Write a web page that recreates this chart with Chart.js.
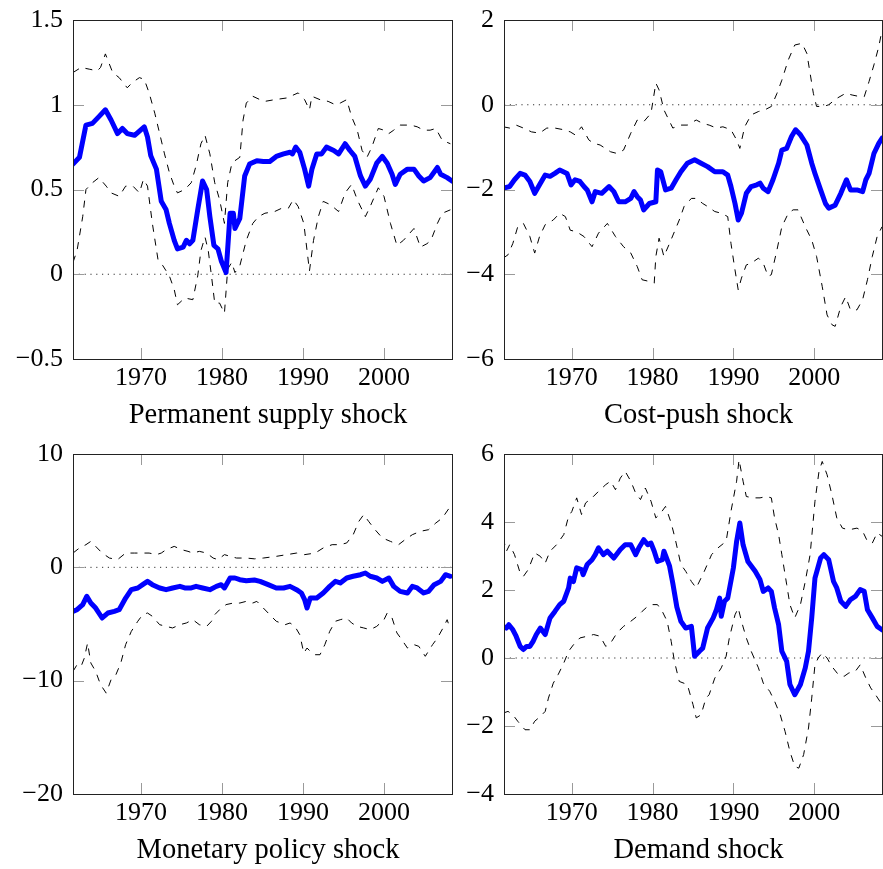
<!DOCTYPE html>
<html>
<head>
<meta charset="utf-8">
<script src="https://cdn.jsdelivr.net/npm/chart.js@4.4.1/dist/chart.umd.min.js"></script>
<style>
body{margin:0;background:#fff;overflow:hidden;width:883px;height:869px;position:relative}
.p{position:absolute}
</style>
</head>
<body>
<div class="p" style="left:0;top:0;width:460px;height:440px"><canvas id="c1"></canvas></div>
<div class="p" style="left:431px;top:0;width:452px;height:440px"><canvas id="c2"></canvas></div>
<div class="p" style="left:0;top:434px;width:460px;height:441px"><canvas id="c3"></canvas></div>
<div class="p" style="left:431px;top:434px;width:452px;height:441px"><canvas id="c4"></canvas></div>
<script>
// x axis
const xMin = 1961.6;
const xMax = 2008.4;
const yearTicks = [1970, 1980, 1990, 2000];

// panel titles
const titles = ["Permanent supply shock", "Cost-push shock", "Monetary policy shock", "Demand shock"];

// y ticks per panel
const supplyTicks = [-0.5, 0, 0.5, 1, 1.5];
const costTicks = [-6, -4, -2, 0, 2];
const monTicks = [-20, -10, 0, 10];
const demTicks = [-4, -2, 0, 2, 4, 6];

// ---- Permanent supply shock ----
const supplyMedYears = [1961.6,1962.4,1963.2,1964.0,1964.8,1965.6,1966.3,1967.1,1967.7,1968.3,1969.2,1970.4,1970.8,1971.2,1971.9,1972.5,1973.1,1973.5,1974.1,1974.5,1975.2,1975.6,1976.0,1976.4,1977.0,1977.6,1978.1,1978.5,1979.0,1979.5,1979.9,1980.5,1981.0,1981.4,1981.6,1982.2,1982.8,1983.4,1984.3,1985.1,1985.9,1986.7,1987.6,1988.4,1988.7,1989.1,1989.6,1990.2,1990.7,1991.1,1991.7,1992.3,1992.9,1993.8,1994.4,1995.2,1995.8,1996.4,1997.1,1997.7,1998.3,1999.1,1999.8,2000.4,2001.0,2001.4,2002.0,2002.9,2003.7,2004.3,2004.9,2005.7,2006.6,2007.0,2007.8,2008.4];
const supplyMed = [0.65,0.69,0.88,0.89,0.93,0.97,0.91,0.83,0.86,0.83,0.82,0.87,0.81,0.70,0.62,0.43,0.38,0.30,0.20,0.15,0.16,0.20,0.18,0.20,0.38,0.55,0.50,0.34,0.17,0.15,0.08,0.01,0.36,0.36,0.27,0.33,0.58,0.65,0.67,0.665,0.665,0.695,0.71,0.72,0.71,0.75,0.72,0.62,0.52,0.62,0.71,0.71,0.75,0.73,0.71,0.77,0.73,0.695,0.58,0.52,0.56,0.655,0.695,0.655,0.59,0.53,0.59,0.62,0.62,0.58,0.55,0.57,0.63,0.59,0.57,0.55];
const supplyUpYears = [1961.6,1962.6,1963.6,1964.6,1965.0,1965.6,1966.5,1967.3,1968.3,1968.9,1969.8,1970.4,1971.0,1971.7,1972.3,1972.9,1973.5,1974.1,1974.5,1975.4,1976.2,1976.8,1977.4,1977.9,1978.5,1979.1,1979.7,1980.3,1980.7,1981.2,1981.6,1982.2,1982.6,1983.0,1983.8,1984.7,1985.3,1986.5,1988.0,1989.4,1990.2,1990.8,1991.1,1992.1,1993.1,1994.0,1994.6,1995.4,1996.0,1996.7,1997.3,1997.9,1998.5,1999.3,2000.0,2000.6,2001.2,2002.0,2003.3,2004.1,2004.9,2005.7,2006.4,2007.2,2008.2];
const supplyUp = [1.19,1.22,1.21,1.20,1.22,1.30,1.19,1.16,1.10,1.13,1.16,1.15,1.07,0.95,0.83,0.71,0.60,0.52,0.48,0.50,0.54,0.64,0.77,0.82,0.71,0.54,0.44,0.30,0.54,0.65,0.67,0.69,0.91,1.01,1.05,1.03,1.02,1.03,1.04,1.07,1.03,0.97,1.05,1.03,1.02,1.00,1.01,1.03,0.93,0.85,0.73,0.69,0.75,0.86,0.85,0.83,0.85,0.88,0.88,0.87,0.85,0.85,0.86,0.79,0.77];
const supplyLoYears = [1961.6,1962.1,1962.8,1963.2,1964.0,1964.8,1965.7,1966.3,1967.3,1968.1,1969.0,1969.8,1970.3,1970.8,1971.4,1972.1,1972.7,1973.5,1974.1,1974.5,1975.4,1976.4,1977.0,1977.4,1977.9,1978.3,1978.7,1979.1,1979.7,1980.3,1980.7,1981.2,1981.6,1982.2,1983.0,1983.8,1984.5,1985.3,1986.5,1987.4,1988.2,1988.8,1989.4,1990.1,1990.5,1990.8,1991.3,1991.9,1992.5,1993.4,1994.4,1995.2,1996.0,1996.7,1997.3,1997.7,1998.3,1999.3,2000.0,2000.8,2001.6,2002.4,2003.7,2004.5,2005.3,2005.8,2006.6,2007.2,2008.2];
const supplyLo = [0.07,0.14,0.34,0.50,0.54,0.57,0.52,0.48,0.46,0.52,0.52,0.48,0.56,0.52,0.30,0.085,0.05,-0.01,-0.09,-0.18,-0.14,-0.15,-0.01,0.14,0.22,0.14,-0.01,-0.17,-0.17,-0.23,0.03,0.07,0.01,0.05,0.20,0.30,0.34,0.36,0.37,0.39,0.39,0.44,0.40,0.30,0.14,0.02,0.20,0.34,0.43,0.41,0.37,0.48,0.53,0.44,0.38,0.34,0.40,0.51,0.46,0.30,0.17,0.20,0.27,0.16,0.18,0.20,0.30,0.36,0.38];

// ---- Cost-push shock ----
const costMedYears = [1961.5,1962.3,1962.9,1963.6,1964.2,1964.8,1965.4,1966.0,1966.7,1967.3,1967.9,1968.5,1969.4,1969.9,1970.4,1971.0,1971.5,1971.9,1972.5,1972.9,1973.7,1974.6,1975.2,1975.8,1976.6,1977.3,1977.7,1978.1,1978.5,1978.9,1979.6,1980.4,1980.6,1981.0,1981.6,1982.3,1982.9,1983.5,1984.3,1985.2,1986.0,1986.8,1987.7,1988.7,1989.3,1989.7,1990.2,1990.6,1991.0,1991.6,1992.2,1992.9,1993.3,1993.7,1994.3,1994.9,1995.6,1996.0,1996.6,1997.2,1997.7,1998.3,1999.1,1999.7,2000.1,2000.8,2001.4,2001.8,2002.6,2003.3,2004.0,2004.5,2005.3,2006.0,2006.4,2006.8,2007.4,2008.0,2008.4];
const costMed = [-1.97,-1.93,-1.77,-1.62,-1.66,-1.81,-2.09,-1.89,-1.66,-1.69,-1.62,-1.54,-1.62,-1.89,-1.77,-1.81,-1.93,-2.01,-2.29,-2.05,-2.09,-1.93,-2.05,-2.29,-2.29,-2.21,-2.05,-2.17,-2.25,-2.48,-2.33,-2.29,-1.54,-1.58,-2.01,-1.97,-1.77,-1.58,-1.38,-1.30,-1.38,-1.46,-1.58,-1.58,-1.66,-1.93,-2.33,-2.72,-2.56,-2.09,-1.93,-1.89,-1.85,-1.97,-2.05,-1.77,-1.38,-1.07,-1.03,-0.75,-0.59,-0.71,-0.95,-1.38,-1.62,-2.01,-2.33,-2.44,-2.37,-2.09,-1.77,-2.01,-2.01,-2.05,-1.77,-1.62,-1.15,-0.91,-0.79];
const costUpYears = [1961.5,1962.3,1963.1,1964.0,1965.0,1966.0,1966.9,1967.9,1969.0,1969.8,1970.4,1971.2,1972.1,1972.7,1973.5,1974.8,1975.6,1976.4,1977.3,1978.1,1978.9,1979.8,1980.4,1980.8,1981.4,1982.5,1983.5,1984.3,1985.4,1986.2,1987.0,1987.9,1988.7,1989.7,1990.4,1990.8,1991.4,1992.2,1993.1,1993.9,1994.7,1995.4,1996.0,1996.8,1997.6,1998.5,1999.1,1999.5,1999.9,2000.3,2001.2,2001.8,2002.8,2003.9,2004.7,2005.7,2006.2,2006.8,2007.4,2008.0,2008.4];
const costUp = [-0.52,-0.55,-0.48,-0.55,-0.64,-0.67,-0.55,-0.55,-0.59,-0.64,-0.71,-0.52,-0.83,-0.91,-0.95,-1.11,-1.15,-1.07,-0.67,-0.36,-0.40,-0.20,0.51,0.35,-0.12,-0.55,-0.48,-0.48,-0.36,-0.44,-0.48,-0.55,-0.52,-0.59,-0.83,-1.03,-0.52,-0.24,-0.16,-0.12,-0.04,0.27,0.58,1.06,1.41,1.45,1.21,0.74,0.27,-0.04,-0.04,0.00,0.15,0.27,0.23,0.19,0.19,0.55,0.94,1.37,1.76];
const costLoYears = [1961.5,1962.1,1962.7,1963.3,1964.0,1964.8,1965.4,1966.0,1966.7,1967.7,1968.5,1969.2,1969.8,1970.6,1971.5,1972.5,1973.3,1974.4,1975.4,1976.4,1977.3,1978.1,1978.7,1979.6,1980.2,1980.4,1980.8,1981.4,1982.1,1982.8,1983.3,1983.9,1984.8,1985.4,1986.2,1986.8,1987.7,1988.5,1989.3,1989.7,1990.2,1990.6,1991.0,1991.6,1992.2,1993.1,1993.7,1994.3,1994.7,1995.4,1996.0,1996.8,1997.4,1998.0,1998.9,1999.7,2000.3,2001.0,2001.6,2002.2,2002.6,2003.3,2003.9,2004.5,2005.3,2006.0,2006.6,2007.2,2007.8,2008.4];
const costLo = [-3.62,-3.54,-3.27,-2.88,-2.80,-3.11,-3.50,-3.11,-2.83,-2.72,-2.56,-2.64,-2.96,-3.00,-3.11,-3.35,-3.03,-2.80,-3.11,-3.35,-3.50,-3.82,-4.13,-4.17,-4.21,-3.58,-3.15,-3.58,-3.27,-2.95,-2.72,-2.40,-2.21,-2.21,-2.33,-2.40,-2.52,-2.56,-2.64,-3.27,-3.90,-4.37,-4.09,-3.78,-3.74,-3.62,-3.74,-4.05,-4.01,-3.42,-2.88,-2.56,-2.48,-2.48,-2.88,-3.19,-3.58,-4.29,-4.96,-5.19,-5.23,-4.76,-4.53,-4.84,-4.84,-4.60,-4.13,-3.58,-3.11,-2.88];

// ---- Monetary policy shock ----
const monMedYears = [1961.6,1962.1,1962.8,1963.3,1963.8,1964.4,1965.2,1965.9,1966.7,1967.3,1968.1,1968.8,1969.6,1970.2,1970.8,1971.4,1972.3,1973.1,1973.9,1974.8,1975.4,1976.2,1976.8,1977.6,1978.5,1979.3,1979.9,1980.3,1981.0,1981.6,1982.2,1983.0,1984.0,1984.7,1985.7,1986.7,1987.6,1988.4,1989.2,1989.8,1990.2,1990.5,1990.9,1991.7,1992.5,1993.3,1994.0,1994.6,1995.4,1996.2,1997.1,1997.7,1998.3,1999.1,1999.8,2000.6,2001.2,2002.0,2002.9,2003.5,2004.1,2004.9,2005.5,2006.2,2007.0,2007.6,2008.2];
const monMed = [-3.88,-3.74,-3.29,-2.56,-3.15,-3.59,-4.47,-4.03,-3.88,-3.74,-2.71,-1.97,-1.82,-1.53,-1.24,-1.53,-1.82,-1.97,-1.82,-1.68,-1.82,-1.82,-1.68,-1.82,-1.97,-1.68,-1.53,-1.82,-0.94,-0.94,-1.09,-1.18,-1.12,-1.24,-1.53,-1.82,-1.82,-1.68,-1.97,-2.26,-2.85,-3.59,-2.71,-2.71,-2.26,-1.68,-1.24,-1.38,-0.94,-0.79,-0.65,-0.50,-0.79,-0.94,-1.24,-0.94,-1.68,-2.12,-2.26,-1.68,-1.82,-2.26,-2.12,-1.53,-1.24,-0.65,-0.79];
const monUpYears = [1961.6,1962.4,1963.2,1963.8,1964.4,1965.2,1966.1,1967.1,1968.1,1969.2,1970.2,1971.0,1971.9,1972.5,1973.1,1974.1,1975.0,1975.8,1976.4,1977.2,1978.1,1978.9,1979.5,1980.3,1981.0,1981.8,1983.0,1984.0,1985.1,1986.7,1988.0,1989.2,1990.2,1991.5,1992.5,1993.6,1994.6,1995.4,1996.2,1996.9,1997.5,1998.1,1998.9,1999.8,2000.8,2001.8,2002.6,2003.5,2004.5,2005.5,2006.4,2007.2,2008.2];
const monUp = [1.26,1.71,2.0,2.29,1.85,1.26,0.82,0.68,1.26,1.26,1.26,1.26,1.12,1.26,1.56,1.85,1.56,1.41,1.26,1.41,1.26,0.82,0.68,1.12,0.97,0.82,0.82,0.75,0.82,0.97,1.12,1.26,1.12,1.26,1.71,2.0,2.0,2.15,2.88,4.06,4.65,4.06,3.32,2.59,2.29,2.0,2.44,2.88,3.18,3.32,3.91,4.35,5.38];
const monLoYears = [1961.6,1962.1,1962.6,1963.0,1963.4,1963.8,1964.4,1965.0,1965.7,1966.3,1966.9,1967.5,1968.1,1968.8,1969.6,1970.2,1970.8,1971.4,1972.3,1973.1,1973.9,1974.8,1975.6,1976.4,1977.2,1978.1,1978.7,1979.1,1979.7,1980.5,1981.4,1982.2,1983.0,1983.8,1984.3,1985.1,1985.9,1986.7,1987.8,1988.4,1989.0,1989.6,1990.1,1990.5,1990.9,1991.5,1992.1,1992.7,1993.3,1994.0,1994.6,1995.4,1996.0,1996.7,1997.5,1998.3,1999.1,2000.0,2000.4,2001.0,2001.6,2002.2,2002.9,2003.7,2004.3,2005.1,2006.0,2006.6,2007.4,2007.8,2008.2];
const monLo = [-9.18,-8.59,-8.74,-8.0,-6.68,-8.44,-9.18,-10.35,-11.1,-9.91,-9.47,-8.44,-6.82,-5.65,-4.76,-4.18,-4.03,-4.32,-5.06,-5.21,-5.35,-5.06,-4.91,-4.62,-5.06,-5.21,-4.76,-4.18,-3.74,-3.29,-3.15,-3.15,-3.0,-3.15,-3.0,-3.59,-4.18,-4.76,-5.06,-4.91,-5.21,-5.94,-7.56,-7.12,-7.41,-7.71,-7.71,-6.82,-5.65,-4.76,-4.62,-4.47,-4.91,-5.21,-5.35,-5.50,-5.21,-4.62,-4.03,-4.47,-5.79,-6.38,-7.12,-6.82,-6.97,-7.85,-6.82,-6.24,-5.21,-4.62,-5.5];

// ---- Demand shock ----
const demMedYears = [1961.5,1961.9,1962.2,1962.7,1963.1,1963.6,1964.0,1964.4,1964.8,1965.2,1965.6,1966.1,1966.7,1967.3,1967.9,1968.5,1969.0,1969.6,1969.8,1970.2,1970.6,1971.2,1971.4,1971.9,1972.5,1972.9,1973.3,1973.9,1974.4,1975.2,1976.0,1976.6,1977.3,1977.9,1978.3,1978.9,1979.4,1979.8,1980.2,1980.6,1981.2,1981.4,1982.1,1982.5,1983.0,1983.5,1984.1,1984.8,1985.2,1985.8,1986.2,1986.8,1987.5,1987.9,1988.3,1988.5,1988.9,1989.3,1990.0,1990.4,1990.8,1991.2,1991.8,1992.7,1993.3,1993.7,1994.3,1994.7,1995.1,1995.6,1996.0,1996.6,1997.0,1997.6,1998.3,1998.9,1999.3,1999.7,2000.1,2000.8,2001.2,2001.8,2002.4,2002.8,2003.3,2003.9,2004.5,2005.1,2005.7,2006.2,2006.6,2007.2,2007.8,2008.4];
const demMed = [0.93,0.88,0.98,0.83,0.64,0.34,0.25,0.34,0.34,0.49,0.69,0.88,0.69,1.18,1.37,1.57,1.67,2.06,2.35,2.25,2.65,2.60,2.45,2.75,2.89,3.04,3.24,3.04,3.14,2.94,3.19,3.33,3.33,3.04,3.24,3.48,3.33,3.38,3.14,2.84,2.89,3.14,2.70,2.2,1.5,1.08,0.88,0.93,0.05,0.20,0.29,0.88,1.18,1.42,1.76,1.23,1.67,1.76,2.65,3.43,3.97,3.33,2.84,2.55,2.30,1.96,2.06,1.96,1.47,0.98,0.20,-0.10,-0.78,-1.08,-0.78,-0.29,0.20,1.18,2.35,2.94,3.04,2.89,2.25,2.06,1.67,1.52,1.72,1.81,2.01,1.96,1.42,1.18,0.93,0.83];
const demUpYears = [1961.5,1961.9,1962.3,1962.9,1963.6,1964.0,1964.6,1965.4,1966.1,1966.7,1967.3,1968.1,1969.0,1969.6,1970.0,1970.6,1971.2,1971.7,1972.5,1973.3,1974.2,1974.8,1975.4,1976.0,1976.6,1977.3,1977.9,1978.5,1979.1,1979.8,1980.4,1981.0,1981.6,1982.3,1982.8,1983.5,1984.1,1984.8,1985.4,1986.4,1987.3,1988.1,1989.1,1989.7,1990.4,1990.7,1991.2,1991.6,1992.4,1993.3,1994.1,1994.7,1995.1,1995.6,1996.0,1996.6,1997.0,1997.6,1998.3,1998.9,1999.5,2000.1,2000.6,2001.0,2001.6,2002.2,2002.8,2003.5,2004.3,2005.3,2006.0,2006.6,2007.2,2007.8,2008.4];
const demUp = [3.53,3.14,3.33,3.04,2.5,2.40,2.60,3.09,2.99,2.79,3.14,3.33,3.63,4.17,4.31,4.71,4.22,4.56,4.71,4.90,5.10,5.20,4.95,5.29,5.49,5.20,4.85,4.66,5.0,4.61,4.12,4.26,4.46,3.97,3.5,2.75,2.55,2.25,2.06,2.55,3.04,3.24,3.43,4.31,5.20,5.83,5.2,4.75,4.71,4.71,4.75,4.71,4.12,3.63,3.04,2.16,1.57,1.18,1.57,2.25,3.04,4.61,5.49,5.78,5.39,4.80,4.12,3.82,3.77,3.82,3.73,3.43,3.38,3.68,3.58];
const demLoYears = [1961.5,1962.1,1962.7,1963.3,1964.2,1964.8,1965.4,1966.1,1966.7,1967.1,1967.7,1968.3,1969.0,1969.6,1970.2,1971.0,1971.9,1972.7,1973.5,1974.2,1974.8,1975.6,1976.4,1977.3,1978.1,1978.7,1979.4,1980.0,1980.6,1981.2,1981.8,1982.3,1982.7,1983.3,1984.3,1985.0,1985.4,1986.0,1986.6,1987.0,1987.7,1988.5,1989.1,1989.5,1990.2,1990.6,1991.0,1991.6,1992.2,1993.1,1993.7,1994.5,1995.1,1995.8,1996.4,1997.0,1997.6,1998.1,1998.7,1999.3,1999.7,2000.1,2000.5,2001.0,2001.6,2002.2,2003.0,2003.7,2004.3,2005.1,2005.7,2006.4,2007.0,2007.6,2008.4];
const demLo = [-1.62,-1.57,-1.67,-1.86,-2.11,-2.11,-1.86,-1.72,-1.57,-1.18,-0.74,-0.49,-0.15,0.20,0.39,0.59,0.64,0.69,0.64,0.34,0.44,0.74,0.93,1.08,1.23,1.37,1.52,1.57,1.57,1.37,1.08,0.49,-0.10,-0.69,-0.78,-1.37,-1.76,-1.67,-1.18,-1.08,-0.59,-0.29,0.05,0.59,1.27,1.47,1.08,0.59,0.20,-0.29,-0.74,-0.98,-1.27,-1.67,-2.16,-2.75,-3.19,-3.24,-2.84,-2.06,-1.18,-0.20,0.0,0.15,0.0,-0.25,-0.49,-0.54,-0.44,-0.39,-0.20,-0.59,-0.88,-1.08,-1.37];

Chart.defaults.font.family = "'Liberation Serif', 'Times New Roman', serif";
Chart.defaults.color = '#000';

function pts(xs, ys) {
	return xs.map((x, i) => ({x: x, y: ys[i]}));
}

function fmt(v) {
	return (v < 0 ? '\u2212' : '') + Math.abs(v);
}

// frame, inward tick marks and the x title like pgfplots
const frame = {
	id: 'frame',
	afterDatasetsDraw(chart, args, opts) {
		const ctx = chart.ctx;
		const a = chart.chartArea;
		const sx = chart.scales.x, sy = chart.scales.y;
		ctx.save();
		ctx.strokeStyle = '#9a9a9a';
		ctx.lineWidth = 1;
		ctx.beginPath();
		sx.ticks.forEach(t => {
			const px = Math.round(sx.getPixelForValue(t.value)) + 0.5;
			ctx.moveTo(px, a.top); ctx.lineTo(px, a.top + 11);
			ctx.moveTo(px, a.bottom); ctx.lineTo(px, a.bottom - 11);
		});
		sy.ticks.forEach(t => {
			const py = Math.round(sy.getPixelForValue(t.value)) + 0.5;
			ctx.moveTo(a.left, py); ctx.lineTo(a.left + 11, py);
			ctx.moveTo(a.right, py); ctx.lineTo(a.right - 11, py);
		});
		ctx.stroke();
		ctx.strokeStyle = '#222';
		ctx.strokeRect(Math.round(a.left) + 0.5, Math.round(a.top) + 0.5, Math.round(a.right - a.left), Math.round(a.bottom - a.top));

		ctx.fillStyle = '#000';
		ctx.font = "28.5px 'Liberation Serif', serif";
		ctx.textAlign = 'center';
		ctx.textBaseline = 'alphabetic';
		ctx.fillText(opts.title, (a.left + a.right) / 2 + 5.5, a.bottom + 64);
		ctx.restore();
	}
};

function makePanel(id, title, ticks, med, up, lo, padRight) {
	new Chart(document.getElementById(id), {
		type: 'line',
		data: {
			datasets: [
				{data: med, borderColor: '#0000ff', borderWidth: 5, pointRadius: 0, tension: 0, borderJoinStyle: 'round', borderCapStyle: 'round', order: 0, clip: 0},
				{data: up, borderColor: '#000', borderWidth: 1, borderDash: [7, 7], pointRadius: 0, tension: 0, order: 1, clip: 0},
				{data: lo, borderColor: '#000', borderWidth: 1, borderDash: [7, 7], pointRadius: 0, tension: 0, order: 1, clip: 0},
				{data: [{x: xMin, y: 0}, {x: xMax, y: 0}], borderColor: '#333', borderWidth: 1, borderDash: [1.2, 4.6], pointRadius: 0, order: 2, clip: 0}
			]
		},
		options: {
			animation: false,
			responsive: true,
			maintainAspectRatio: false,
			layout: {padding: {top: 20, right: padRight, bottom: 0, left: 0}},
			plugins: {legend: {display: false}, tooltip: {enabled: false}, frame: {title: title}},
			scales: {
				x: {
					type: 'linear', min: xMin, max: xMax,
					grid: {display: false, drawTicks: false},
					border: {display: false},
					afterBuildTicks: s => { s.ticks = yearTicks.map(v => ({value: v})); },
					afterFit: s => { s.height = 81; s.paddingLeft = 0; s.paddingRight = 0; },
					ticks: {padding: 4, maxRotation: 0, autoSkip: false, font: {size: 26}, callback: v => String(v)}
				},
				y: {
					type: 'linear', min: ticks[0], max: ticks[ticks.length - 1],
					grid: {display: false, drawTicks: false},
					border: {display: false},
					afterBuildTicks: s => { s.ticks = ticks.map(v => ({value: v})); },
					afterFit: s => { s.width = 73; s.paddingTop = 0; s.paddingBottom = 0; },
					ticks: {padding: 10, autoSkip: false, font: {size: 26}, callback: v => fmt(v)}
				}
			}
		},
		plugins: [frame]
	});
}

makePanel('c1', titles[0], supplyTicks, pts(supplyMedYears, supplyMed), pts(supplyUpYears, supplyUp), pts(supplyLoYears, supplyLo), 8);
makePanel('c2', titles[1], costTicks, pts(costMedYears, costMed), pts(costUpYears, costUp), pts(costLoYears, costLo), 1);
makePanel('c3', titles[2], monTicks, pts(monMedYears, monMed), pts(monUpYears, monUp), pts(monLoYears, monLo), 8);
makePanel('c4', titles[3], demTicks, pts(demMedYears, demMed), pts(demUpYears, demUp), pts(demLoYears, demLo), 1);
</script>
</body>
</html>
